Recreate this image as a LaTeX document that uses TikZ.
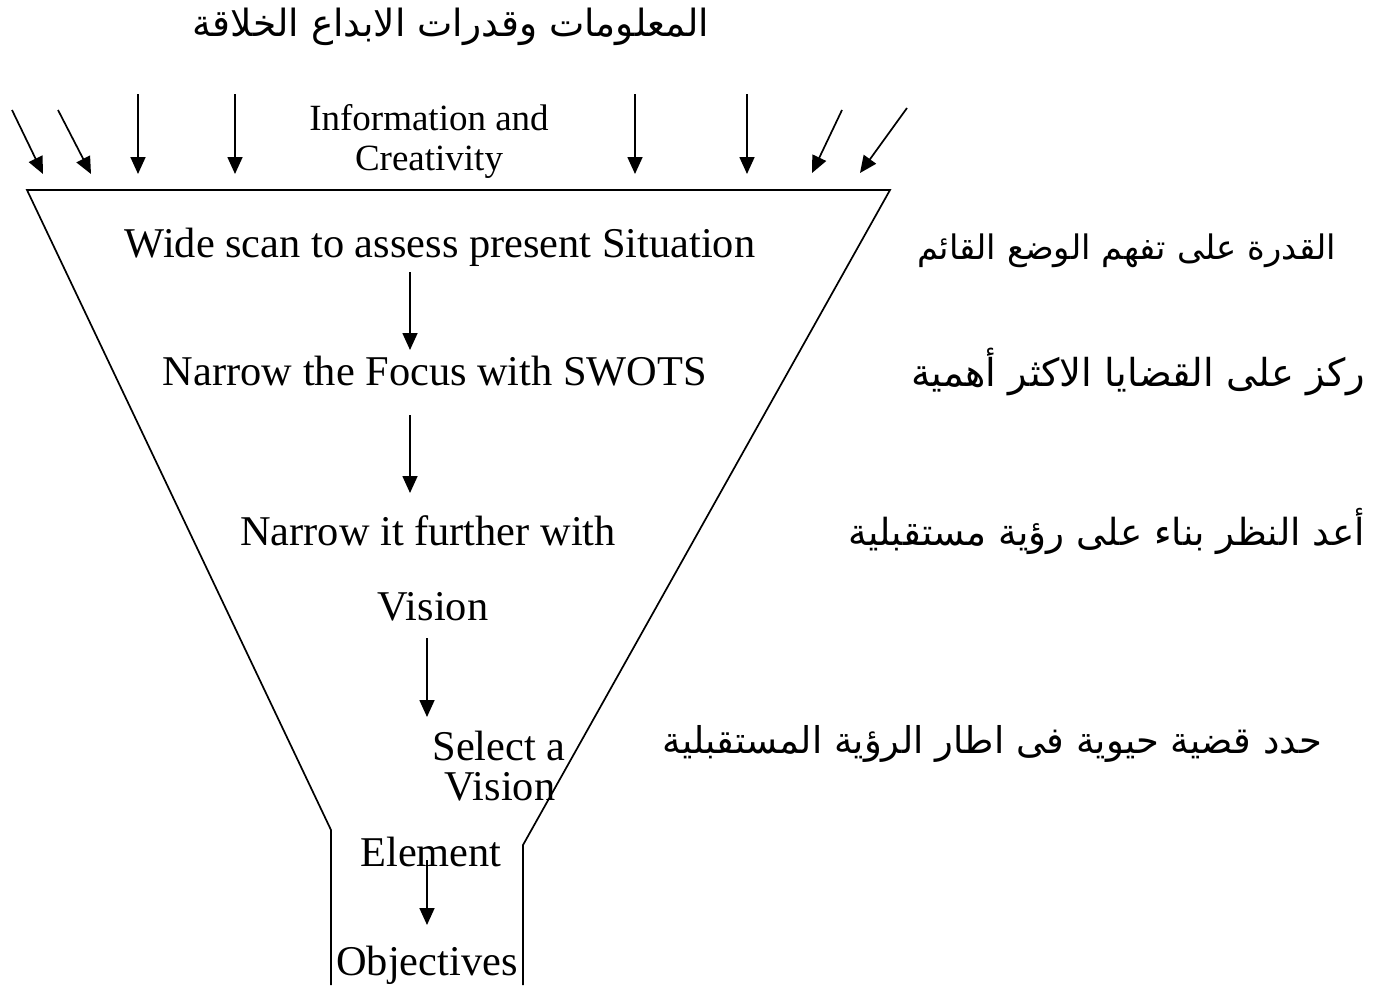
\documentclass[tikz,border=0pt]{standalone}
\usepackage{fontspec}
\setmainfont{Liberation Serif}
\newfontfamily\arabicfont[Script=Arabic]{DejaVu Sans}
\TeXXeTstate=1
\usetikzlibrary{arrows.meta}
\begin{document}
\begin{tikzpicture}[x=1pt,y=-1pt,
  funnel/.style={line width=1.7pt},
  arr/.style={line width=1.7pt,-{Triangle[length=17pt,width=15pt]}},
  en/.style={font=\fontsize{42.4}{48}\selectfont, anchor=base, inner sep=0pt},
  ensm/.style={font=\fontsize{37}{42}\selectfont, anchor=base, inner sep=0pt},
  ar/.style={font=\arabicfont\fontsize{#1}{40}\selectfont, anchor=base east, inner sep=0pt},
  artitle/.style={font=\arabicfont\fontsize{37.5}{40}\selectfont, anchor=base, inner sep=0pt}]
\useasboundingbox (0,0) rectangle (1375,985);
% funnel
\coordinate (lb) at (331,985);
\coordinate (lk) at (331,830);
\coordinate (lt) at (27,190);
\coordinate (rt) at (890,190);
\coordinate (rk) at (523,845);
\coordinate (rb) at (523,985);
\draw[funnel] (lb) -- (lk) -- (lt) -- (rt) -- (rk) -- (rb);
% top arrows
\coordinate (s1) at (12,110);  \coordinate (e1) at (43,174);
\coordinate (s2) at (58,110);  \coordinate (e2) at (91,174);
\coordinate (s3) at (138,94);  \coordinate (e3) at (138,174);
\coordinate (s4) at (235,94);  \coordinate (e4) at (235,174);
\coordinate (s5) at (635,94);  \coordinate (e5) at (635,174);
\coordinate (s6) at (747,94);  \coordinate (e6) at (747,174);
\coordinate (s7) at (842,110); \coordinate (e7) at (812,173);
\coordinate (s8) at (907,108); \coordinate (e8) at (860,173);
\foreach \i in {1,...,8} \draw[arr] (s\i) -- (e\i);
% texts
\node[artitle] (title) at (451,36) {\beginR المعلومات وقدرات الابداع الخلاقة\endR};
\node[ensm] (info1) at (429,130) {Information and};
\node[ensm] (info2) at (429,170) {Creativity};
\node[en] (wide) at (440,257) {Wide scan to assess present Situation};
\node[en] (narrow) at (435,385) {Narrow the Focus with SWOTS};
\node[en] (further) at (428,545) {Narrow it further with};
\node[en] (vision) at (433,620) {Vision};
\node[en] (select) at (499,760) {Select a};
\node[en] (vision2) at (500,800) {Vision};
\node[en] (element) at (431,866) {Element};
\node[en] (objectives) at (427,975) {Objectives};
\node[ar=33.8] (ar1) at (1336,259) {\beginR القدرة على تفهم الوضع القائم\endR};
\node[ar=38.5] (ar2) at (1365,386) {\beginR ركز على القضايا الاكثر أهمية\endR};
\node[ar=37.3] (ar3) at (1365,545) {\beginR أعد النظر بناء على رؤية مستقبلية\endR};
\node[ar=36.9] (ar4) at (1322,753) {\beginR حدد قضية حيوية فى اطار الرؤية المستقبلية\endR};
% centre arrows
\coordinate (c1s) at (410,272); \coordinate (c1e) at (410,350);
\coordinate (c2s) at (410,415); \coordinate (c2e) at (410,493);
\coordinate (c3s) at (427,638); \coordinate (c3e) at (427,717);
\coordinate (c4s) at (427,860); \coordinate (c4e) at (427,925);
\draw[arr] (c1s) -- (c1e);
\draw[arr] (c2s) -- (c2e);
\draw[arr] (c3s) -- (c3e);
\draw[arr] (c4s) -- (c4e);
\end{tikzpicture}
\end{document}
